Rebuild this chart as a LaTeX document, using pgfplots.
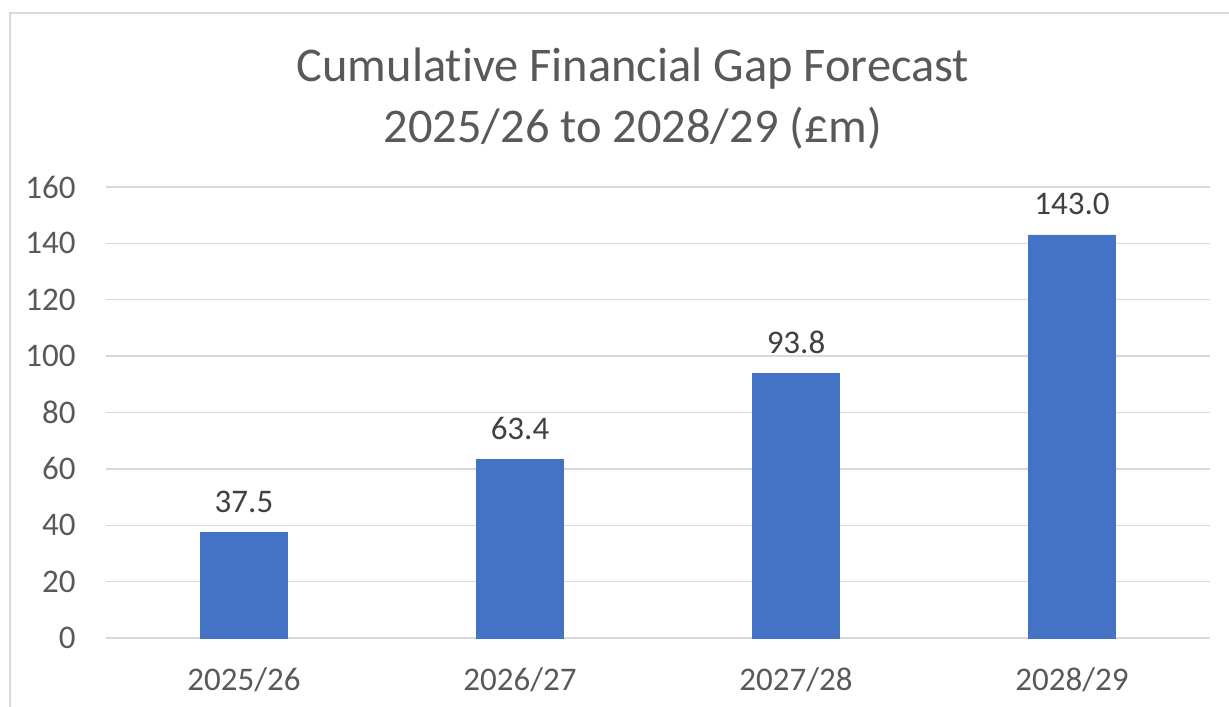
\documentclass[border=0pt]{standalone}
\usepackage{pgfplots}
\pgfplotsset{compat=1.18}
\usepackage{fontspec}
\setmainfont{Carlito}[Ligatures=NoCommon]
\definecolor{barblue}{HTML}{4472C4}
\definecolor{gridgray}{HTML}{D9D9D9}
\definecolor{txtgray}{HTML}{595959}
\definecolor{lblgray}{HTML}{404040}
\begin{document}
\begin{tikzpicture}
\useasboundingbox (0,0) rectangle (614.5pt,353pt);
% chart area frame (cut off at right and bottom)
\draw[gridgray,line width=0.8pt] (5pt,-20pt) -- (5pt,346.5pt) -- (640pt,346.5pt);
% title
\node[anchor=base,text=txtgray,font=\fontsize{24.2}{29}\selectfont,inner sep=0pt] at (316.5pt,312pt) {Cumulative Financial Gap Forecast};
\node[anchor=base,text=txtgray,font=\fontsize{24.2}{29}\selectfont,inner sep=0pt] at (316.5pt,281.5pt) {2025/26 to 2028/29 (£m)};
\begin{axis}[
    at={(53pt,34pt)}, anchor=south west,
    scale only axis, width=552pt, height=225.5pt,
    xmin=-0.5, xmax=3.5, ymin=0, ymax=160,
    axis line style={draw=none},
    ymajorgrids, grid style={gridgray,line width=0.75pt},
    ytick={0,20,...,160},
    xtick={0,1,2,3},
    xticklabels={2025/26,2026/27,2027/28,2028/29},
    major tick length=0pt,
    tick style={draw=none},
    tick label style={text=txtgray,font=\fontsize{16.5}{20}\selectfont,inner sep=0pt},
    yticklabel style={anchor=east,xshift=-15pt},
    xticklabel style={anchor=base,yshift=-26pt},
    /pgf/number format/assume math mode=true,
    clip=false,
]
\addplot[ybar, bar width=43.5pt, fill=barblue, draw=barblue,
    nodes near coords,
    nodes near coords style={text=lblgray,font=\fontsize{16.5}{20}\selectfont,
        anchor=base,inner sep=0pt,yshift=10pt,
        /pgf/number format/.cd,fixed,fixed zerofill,precision=1,assume math mode=true},
] coordinates {(0,37.5) (1,63.4) (2,93.8) (3,143.0)};
\end{axis}
\end{tikzpicture}
\end{document}
